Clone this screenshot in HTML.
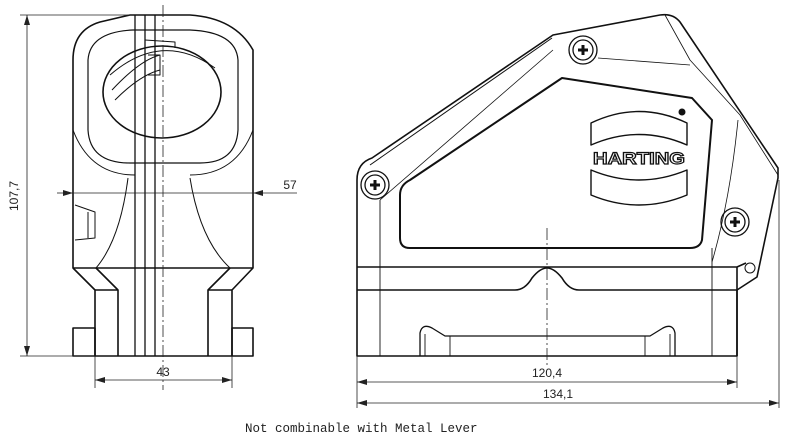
<!DOCTYPE html>
<html><head><meta charset="utf-8"><style>
html,body{margin:0;padding:0;background:#fff;width:800px;height:439px;overflow:hidden}
svg{display:block}
text{font-family:"Liberation Sans",sans-serif;fill:#222}
</style></head><body>
<svg width="800" height="439" viewBox="0 0 800 439" xmlns="http://www.w3.org/2000/svg">
<defs>
<marker id="a" viewBox="0 0 10 6" refX="10" refY="3" markerWidth="10" markerHeight="6" orient="auto-start-reverse" markerUnits="userSpaceOnUse"><path d="M0,0L10,3L0,6z" fill="#222"/></marker>
</defs>
<g fill="none" stroke="#111" stroke-width="1.6" stroke-linejoin="round">
<!-- LEFT VIEW -->
<path d="M73,268 L73,60 Q73,30 100,22 L130,15 L190,15 Q235,18 253,50 L253,268 L232,290 L232,356 L95,356 L95,290 Z"/>
<path d="M73,268 L253,268"/>
<path d="M95,290 L118,290 L118,356 M208,356 L208,290 L232,290"/>
<path d="M96,268 L118,290 M230,268 L208,290"/>
<rect x="73" y="328" width="22" height="28"/>
<rect x="232" y="328" width="21" height="28"/>
<path d="M88,130 L88,60 Q90,32 133,30 L190,30 Q236,32 238,60 L238,130 Q236,163 200,163 L130,163 Q90,163 88,130 Z" stroke-width="1.2"/>
<ellipse cx="162" cy="92" rx="59" ry="46"/>
<path d="M110,75 Q162,30 215,68 M112,90 Q140,60 160,55 M115,100 Q140,75 160,70" stroke-width="1"/>
<path d="M145,40 L175,42 L175,48 M148,55 L160,55 L160,75 L148,75" stroke-width="1"/>
<path d="M135,15 L135,356 M145,15 L145,356 M155,15 L155,356" stroke-width="1.3"/>
<path d="M73,130 Q90,175 135,175 M253,130 Q236,175 190,175" stroke-width="1"/>
<path d="M128,178 Q120,240 96,268 M190,178 Q200,240 230,268" stroke-width="1"/>
<path d="M75,205 L95,212 L95,238 L75,240 M88,212 L88,238" stroke-width="1"/>
</g>
<g stroke="#222" stroke-width="0.8" fill="none">
<path d="M163,5 L163,390" stroke-dasharray="12,3,2,3"/>
<path d="M20,15 L130,15 M20,356 L95,356"/>
<path d="M27,15 L27,356" marker-start="url(#a)" marker-end="url(#a)"/>
<path d="M57,193 L73,193" marker-end="url(#a)"/>
<path d="M297,193 L253,193" marker-end="url(#a)"/>
<path d="M73,193 L253,193"/>
<path d="M95,356 L95,388 M232,356 L232,388"/>
<path d="M95,380 L232,380" marker-start="url(#a)" marker-end="url(#a)"/>
</g>
<text x="18" y="196" font-size="12" text-anchor="middle" transform="rotate(-90 18 196)">107,7</text>
<text x="290" y="189" font-size="12" text-anchor="middle">57</text>
<text x="163" y="376" font-size="12" text-anchor="middle">43</text>

<!-- RIGHT VIEW -->
<g fill="none" stroke="#111" stroke-width="1.6" stroke-linejoin="round">
<path d="M357,356 L357,180 Q357,163 372,158 L553,35 L660,15 Q673,13 680,22 L778,168 L778,178 L757,277 L737,290 L737,356 Z"/>
<path d="M357,267 L737,267 L737,356 M737,267 L746,263"/>
<path d="M357,290 L515,290 Q525,290 532,278 Q540,268 547,268 Q554,268 562,278 Q569,290 579,290 L737,290"/>
<path d="M562,78 L692,98 L712,120 L702,240 Q700,248 690,248 L410,248 Q400,248 400,238 L400,195 Q400,185 410,180 Z" stroke-width="2"/>
<path d="M420,356 L420,333 Q422,323 432,328 L445,336 L650,336 L663,328 Q673,323 675,333 L675,356" stroke-width="1.3"/>
<path d="M425,356 L425,334 M670,356 L670,334 M450,336 L450,356 M645,336 L645,356" stroke-width="0.9"/>
<path d="M380,200 L380,356 M712,248 L712,356" stroke-width="0.9"/>
<path d="M380,200 L553,50 M598,58 Q650,62 690,65 M665,15 L690,60 L740,115 M740,115 L778,175 M738,120 Q730,200 712,262" stroke-width="0.8"/>
<path d="M370,165 L552,38" stroke-width="1"/>
<g stroke-width="1.3">
<circle cx="375" cy="185" r="14"/><circle cx="375" cy="185" r="10"/>
<circle cx="583" cy="50" r="14"/><circle cx="583" cy="50" r="10"/>
<circle cx="735" cy="222" r="14"/><circle cx="735" cy="222" r="10"/>
</g>
<path d="M370,185h10M375,180v10M578,50h10M583,45v10M730,222h10M735,217v10" stroke-width="3"/>
<circle cx="750" cy="268" r="5" stroke-width="1"/>
<!-- logo -->
<path d="M591,123 Q639,100 687,123 L687,145 Q639,124 591,145 Z" stroke-width="1.4"/>
<path d="M591,170 Q639,190 687,170 L687,195 Q639,215 591,195 Z" stroke-width="1.4"/>
</g>
<circle cx="682" cy="112" r="3.5" fill="#111"/>
<text x="639" y="164" font-size="17" font-weight="bold" text-anchor="middle" textLength="92" lengthAdjust="spacingAndGlyphs" style="fill:#fff;stroke:#111;stroke-width:1.2">HARTING</text>
<g stroke="#222" stroke-width="0.8" fill="none">
<path d="M547,228 L547,365" stroke-dasharray="12,3,2,3"/>
<path d="M357,356 L357,408 M737,356 L737,388 M779,180 L779,408"/>
<path d="M357,382 L737,382" marker-start="url(#a)" marker-end="url(#a)"/>
<path d="M357,403 L779,403" marker-start="url(#a)" marker-end="url(#a)"/>
</g>
<text x="547" y="377" font-size="12" text-anchor="middle">120,4</text>
<text x="558" y="398" font-size="12" text-anchor="middle">134,1</text>
<text x="245" y="432" font-size="12.5" style="font-family:'Liberation Mono',monospace">Not combinable with Metal Lever</text>
</svg>
</body></html>
